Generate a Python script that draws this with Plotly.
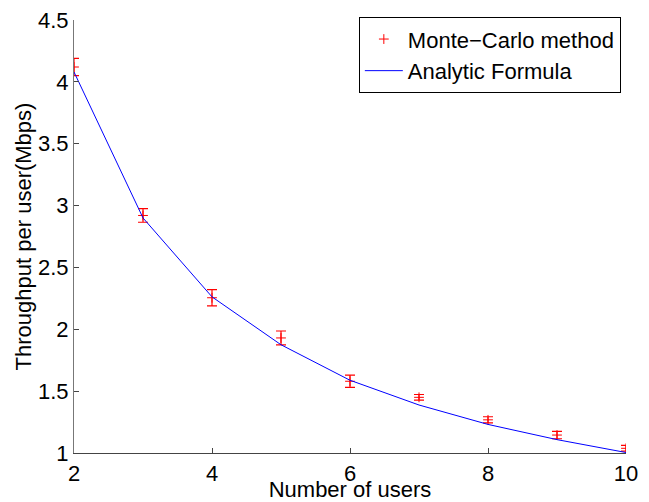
import plotly.graph_objects as go

users = [2, 3, 4, 5, 6, 7, 8, 9, 10]
mc_mean = [4.12, 2.92, 2.255, 1.93, 1.58, 1.45, 1.268, 1.145, 1.038]
mc_err = [0.07, 0.055, 0.066, 0.056, 0.05, 0.023, 0.025, 0.03, 0.023]
analytic = [4.08, 2.90, 2.262, 1.875, 1.588, 1.388, 1.231, 1.108, 1.004]

x_ticks = [2, 4, 6, 8, 10]
y_ticks = [1, 1.5, 2, 2.5, 3, 3.5, 4, 4.5]
y_tick_text = ["1", "1.5", "2", "2.5", "3", "3.5", "4", "4.5"]

FONT = "Liberation Sans, Arial, Helvetica, sans-serif"
FS = 22

fig = go.Figure()
fig.add_trace(go.Scatter(
    x=users, y=mc_mean, mode="markers", name="Monte\u2212Carlo method",
    marker=dict(symbol="cross-thin", size=7, color="red",
                line=dict(color="red", width=1)),
    error_y=dict(type="data", array=mc_err, visible=True, color="red",
                 thickness=1.2, width=5),
))
fig.add_trace(go.Scatter(
    x=users, y=analytic, mode="lines", name="Analytic Formula",
    line=dict(color="blue", width=1),
))

# page body has an 8px margin, so the figure is 8px smaller than the window
fig.update_layout(
    width=641, height=494,
    margin=dict(l=66, r=23, t=9, b=49),
    paper_bgcolor="white", plot_bgcolor="white",
    font=dict(family=FONT, size=FS, color="black"),
    showlegend=True,
    legend=dict(
        x=0.516, y=0.9186, xanchor="left", yanchor="middle",
        bgcolor="white", bordercolor="black", borderwidth=1,
        font=dict(family=FONT, size=FS, color="black"),
        tracegroupgap=0, itemwidth=38,
    ),
    xaxis=dict(
        range=[2, 10], tickvals=x_ticks, ticktext=[str(v) for v in x_ticks],
        showgrid=False, zeroline=False, showline=True, linecolor="#444",
        linewidth=1, ticks="inside", ticklen=5, tickcolor="#444",
        mirror=False, automargin="top", ticklabelstandoff=1,
        ticklabeloverflow="allow",
        title=dict(text="Number of users", standoff=2,
                   font=dict(family=FONT, size=FS)),
        tickfont=dict(family=FONT, size=FS),
    ),
    yaxis=dict(
        range=[1, 4.5], tickvals=y_ticks, ticktext=y_tick_text,
        showgrid=False, zeroline=False, showline=True, linecolor="#777",
        linewidth=1, ticks="inside", ticklen=5, tickcolor="#444",
        mirror=False, automargin="right", ticklabeloverflow="allow",
        title=dict(text="Throughput per user(Mbps)", standoff=0,
                   font=dict(family=FONT, size=FS)),
        tickfont=dict(family=FONT, size=FS),
    ),
)

fig.write_html("out.html")
